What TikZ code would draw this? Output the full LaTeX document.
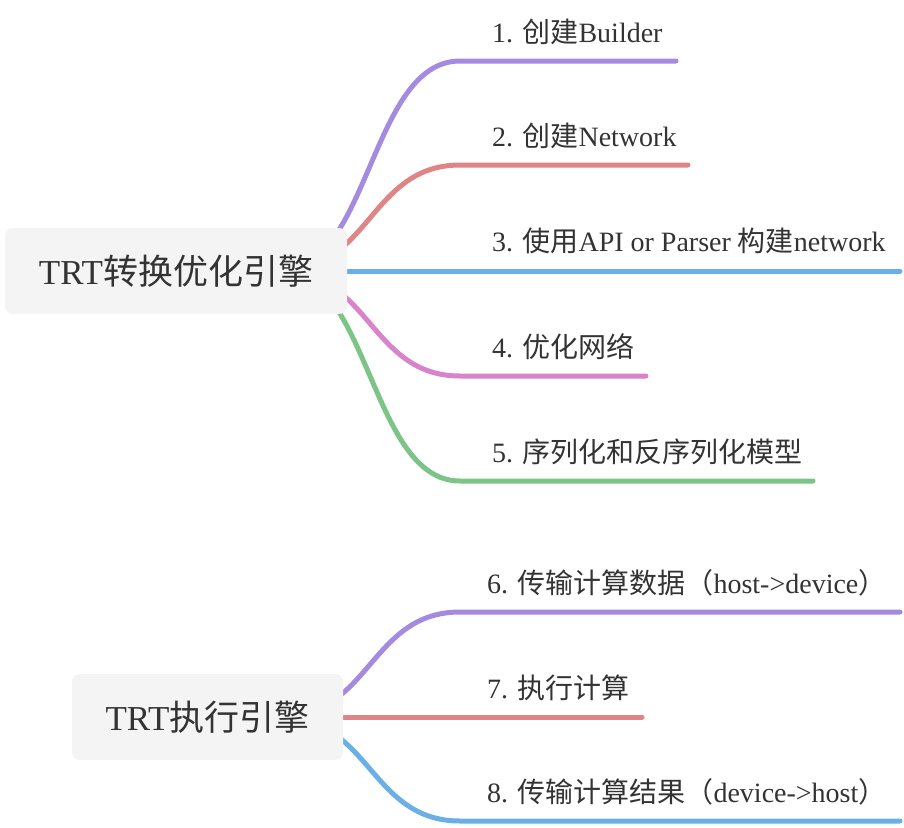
\documentclass[tikz,border=0pt]{standalone}
\usepackage{fontspec}
\setmainfont{Liberation Serif}
\newfontfamily\zhfont{Noto Sans CJK SC}
\newcommand{\zh}[1]{{\zhfont #1}}
\usetikzlibrary{backgrounds}

\definecolor{txtgray}{HTML}{333333}
\definecolor{rootbg}{HTML}{F4F4F4}
\definecolor{brpurple}{HTML}{A48BE0}
\definecolor{brred}{HTML}{E08585}
\definecolor{brblue}{HTML}{6AB0E6}
\definecolor{brpink}{HTML}{D883CC}
\definecolor{brgreen}{HTML}{7DC487}

\begin{document}
\begin{tikzpicture}[
        x=1pt, y=-1pt,
        rootbox/.style={fill=rootbg, rounded corners=8pt, text=txtgray,
                        font=\fontsize{35}{42}\selectfont,
                        minimum height=86pt, inner sep=0pt},
        leaf/.style={anchor=base west, inner sep=0pt, text=txtgray,
                     font=\fontsize{28}{34}\selectfont},
        branch/.style={line width=5pt, line cap=round, draw=#1}
    ]
        \useasboundingbox (0,0) rectangle (904,827);

        \node[rootbox, minimum width=342pt] (trt1) at (176,271) {TRT\zh{转换优化引擎}};
        \node[rootbox, minimum width=271pt] (trt2) at (207.5,717) {TRT\zh{执行引擎}};

        \coordinate (hub1) at (280,271);
        \coordinate (hub2) at (280,717);

        \node[leaf] (s1) at (492,42) {1. \zh{创建}Builder};
        \node[leaf] (s2) at (492,146) {2. \zh{创建}Network};
        \node[leaf] (s3) at (492,251) {3. \zh{使用}API or Parser \zh{构建}network};
        \node[leaf] (s4) at (492,357) {4. \zh{优化网络}};
        \node[leaf] (s5) at (492,462) {5. \zh{序列化和反序列化模型}};
        \node[leaf] (s6) at (487,593) {6. \zh{传输计算数据（}host->device\zh{）}};
        \node[leaf] (s7) at (487,698) {7. \zh{执行计算}};
        \node[leaf] (s8) at (487,802) {8. \zh{传输计算结果（}device->host\zh{）}};

        \coordinate (e1) at (676,61);
        \coordinate (e2) at (688,165);
        \coordinate (e3) at (900,271);
        \coordinate (e4) at (646,376);
        \coordinate (e5) at (813,481);
        \coordinate (e6) at (900,612);
        \coordinate (e7) at (642,717);
        \coordinate (e8) at (900,821);

        \begin{scope}[on background layer]
            \draw[branch=brpurple] (hub1) .. controls (370,271) and (370,61) .. (460,61) -- (e1);
            \draw[branch=brred] (hub1) .. controls (370,271) and (370,165) .. (460,165) -- (e2);
            \draw[branch=brblue] (hub1) -- (e3);
            \draw[branch=brpink] (hub1) .. controls (370,271) and (370,376) .. (460,376) -- (e4);
            \draw[branch=brgreen] (hub1) .. controls (370,271) and (370,481) .. (460,481) -- (e5);

            \draw[branch=brpurple] (hub2) .. controls (370,717) and (370,612) .. (460,612) -- (e6);
            \draw[branch=brred] (hub2) -- (e7);
            \draw[branch=brblue] (hub2) .. controls (370,717) and (370,821) .. (460,821) -- (e8);
        \end{scope}
    \end{tikzpicture}
\end{document}
